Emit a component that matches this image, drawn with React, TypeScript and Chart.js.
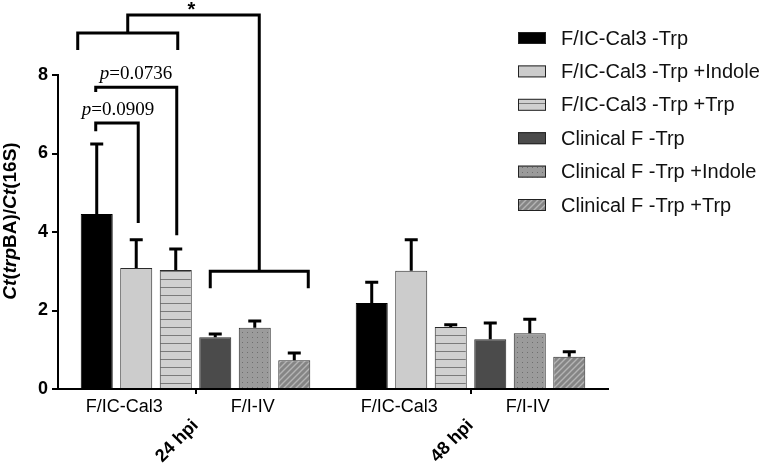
import { useEffect, useRef } from 'react';
import { Chart, registerables } from 'chart.js';

Chart.register(...registerables);

// ---------- data ----------
const timepoints = ['24 hpi', '48 hpi'];
const subgroupLabels = ['F/IC-Cal3', 'F/I-IV'];
const seriesNames = [
  'F/IC-Cal3 -Trp',
  'F/IC-Cal3 -Trp +Indole',
  'F/IC-Cal3 -Trp +Trp',
  'Clinical F -Trp',
  'Clinical F -Trp +Indole',
  'Clinical F -Trp +Trp',
];
const meanCalNoTrp = [4.46, 2.19];
const meanCalIndole = [3.08, 3.01];
const meanCalTrp = [3.03, 1.58];
const meanClinNoTrp = [1.32, 1.27];
const meanClinIndole = [1.56, 1.42];
const meanClinTrp = [0.73, 0.82];
const errCalNoTrp = [1.78, 0.53];
const errCalIndole = [0.72, 0.79];
const errCalTrp = [0.54, 0.06];
const errClinNoTrp = [0.08, 0.41];
const errClinIndole = [0.17, 0.36];
const errClinTrp = [0.19, 0.13];
const yTicks = [0, 2, 4, 6, 8];
const pValues = ['0.0909', '0.0736'];
const starLabel = '*';
// bracket levels (in y-axis units)
const bracketA = { level: 6.78, leftEnd: 6.57, rightEnd: 4.23 };
const bracketB = { level: 7.69, leftEnd: 7.57, rightEnd: 3.92 };
const bracketC = { level: 9.07, ends: 8.64 };
const bracketD = { level: 9.53 };
const bracketE = { level: 3.0, ends: 2.57 };

const means = [meanCalNoTrp, meanCalIndole, meanCalTrp, meanClinNoTrp, meanClinIndole, meanClinTrp];
const errs = [errCalNoTrp, errCalIndole, errCalTrp, errClinNoTrp, errClinIndole, errClinTrp];

const SANS = "'Liberation Sans', Arial, sans-serif";
const SERIF = "'Liberation Serif', 'Times New Roman', serif";

function makePattern(w: number, h: number, bg: string, draw: (c: CanvasRenderingContext2D) => void) {
  const cv = document.createElement('canvas');
  cv.width = w;
  cv.height = h;
  const c = cv.getContext('2d')!;
  c.fillStyle = bg;
  c.fillRect(0, 0, w, h);
  draw(c);
  return c.createPattern(cv, 'repeat')!;
}

function buildFills() {
  const striped = makePattern(8, 8, '#d0d0d0', (c) => {
    c.fillStyle = '#7a7a7a';
    c.fillRect(0, 7, 8, 1);
  });
  const dotted = makePattern(5, 5, '#9b9b9b', (c) => {
    c.fillStyle = '#6e6e6e';
    c.fillRect(2, 2, 1, 1);
  });
  const hatched = makePattern(6, 6, '#858585', (c) => {
    c.strokeStyle = '#b4b4b4';
    c.lineWidth = 1.4;
    c.beginPath();
    c.moveTo(-1, 7);
    c.lineTo(7, -1);
    c.moveTo(-4, 4);
    c.lineTo(4, -4);
    c.moveTo(2, 10);
    c.lineTo(10, 2);
    c.stroke();
  });
  return ['#000000', '#cccccc', striped, '#4b4b4b', dotted, hatched];
}

const annotations = {
  id: 'annotations',
  afterDatasetsDraw(chart: any) {
    const ctx: CanvasRenderingContext2D = chart.ctx;
    const ys = chart.scales.y;
    const py = (v: number) => ys.getPixelForValue(v);
    ctx.save();
    // error bars
    ctx.strokeStyle = '#000';
    ctx.lineWidth = 3;
    ctx.lineCap = 'butt';
    chart.data.datasets.forEach((ds: any, i: number) => {
      const meta = chart.getDatasetMeta(i);
      meta.data.forEach((el: any, j: number) => {
        const top = py(means[i][j] + errs[i][j]);
        ctx.beginPath();
        ctx.moveTo(el.x, el.y);
        ctx.lineTo(el.x, top);
        ctx.moveTo(el.x - 6.5, top);
        ctx.lineTo(el.x + 6.5, top);
        ctx.stroke();
      });
    });

    const cx = (i: number) => chart.getDatasetMeta(i).data[0].x;
    const path = (pts: number[][]) => {
      ctx.beginPath();
      ctx.moveTo(pts[0][0], pts[0][1]);
      for (let k = 1; k < pts.length; k++) ctx.lineTo(pts[k][0], pts[k][1]);
      ctx.stroke();
    };
    ctx.lineJoin = 'miter';
    ctx.lineWidth = 3;
    // A
    const aL = cx(0) - 1, aR = cx(1) + 2;
    path([[aL, py(bracketA.leftEnd)], [aL, py(bracketA.level)], [aR, py(bracketA.level)], [aR, py(bracketA.rightEnd)]]);
    // B
    const bL = cx(0) - 1, bR = cx(2) + 1;
    path([[bL, py(bracketB.leftEnd)], [bL, py(bracketB.level)], [bR, py(bracketB.level)], [bR, py(bracketB.rightEnd)]]);
    // C
    const cL = cx(0) - 19, cR = cx(2) + 2;
    path([[cL, py(bracketC.ends)], [cL, py(bracketC.level)], [cR, py(bracketC.level)], [cR, py(bracketC.ends)]]);
    // E
    const eL = cx(3) - 5, eR = cx(5) + 14;
    path([[eL, py(bracketE.ends)], [eL, py(bracketE.level)], [eR, py(bracketE.level)], [eR, py(bracketE.ends)]]);
    // D
    const dL = (cL + cR) / 2, dR = (eL + eR) / 2;
    path([[dL, py(bracketC.level)], [dL, py(bracketD.level)], [dR, py(bracketD.level)], [dR, py(bracketE.level)]]);

    // star
    ctx.fillStyle = '#000';
    ctx.font = `bold 20px ${SANS}`;
    ctx.textAlign = 'center';
    ctx.textBaseline = 'alphabetic';
    ctx.fillText(starLabel, (dL + dR) / 2 - 2, py(bracketD.level) + 1);

    // p-values
    const drawP = (x: number, y: number, val: string) => {
      ctx.textAlign = 'left';
      ctx.font = `italic 19px ${SERIF}`;
      ctx.fillText('p', x, y);
      const w = ctx.measureText('p').width;
      ctx.font = `19px ${SERIF}`;
      ctx.fillText('=' + val, x + w, y);
    };
    drawP(cx(0) - 15, py(bracketA.level) - 8, pValues[0]);
    drawP(cx(0) + 3, py(bracketB.level) - 8, pValues[1]);

    // subgroup labels under x axis
    ctx.font = `18px ${SANS}`;
    ctx.textAlign = 'center';
    ctx.textBaseline = 'middle';
    const base = chart.chartArea.bottom + 18;
    for (let j = 0; j < timepoints.length; j++) {
      const x1 = chart.getDatasetMeta(1).data[j].x - 12;
      const x2 = chart.getDatasetMeta(4).data[j].x - 2;
      ctx.fillText(subgroupLabels[0], x1, base);
      ctx.fillText(subgroupLabels[1], x2, base);
    }

    // y-axis title with mixed styles
    const parts: [string, boolean][] = [
      ['Ct', true], ['(', false], ['trp', true], ['BA)/', false], ['Ct', true], ['(16S)', false],
    ];
    const fontFor = (it: boolean) => `${it ? 'italic ' : ''}bold 19px ${SANS}`;
    let total = 0;
    parts.forEach(([t, it]) => { ctx.font = fontFor(it); total += ctx.measureText(t).width; });
    ctx.translate(16, 221);
    ctx.rotate(-Math.PI / 2);
    ctx.textAlign = 'left';
    ctx.textBaseline = 'alphabetic';
    let u = -total / 2;
    parts.forEach(([t, it]) => {
      ctx.font = fontFor(it);
      ctx.fillText(t, u, 0);
      u += ctx.measureText(t).width;
    });
    ctx.setTransform(1, 0, 0, 1, 0, 0);

    // legend
    ctx.font = `20px ${SANS}`;
    ctx.textAlign = 'left';
    ctx.textBaseline = 'middle';
    chart.data.datasets.forEach((ds: any, i: number) => {
      const ry = 38 + i * 33.4;
      ctx.fillStyle = ds.backgroundColor;
      ctx.fillRect(518, ry - 6, 28, 12);
      ctx.lineWidth = 1;
      ctx.strokeStyle = '#222';
      ctx.strokeRect(518.5, ry - 5.5, 27, 11);
      ctx.fillStyle = '#111';
      ctx.fillText(ds.label, 561, ry + 1);
    });
    ctx.restore();
  },
};

export default function App() {
  const ref = useRef<HTMLCanvasElement>(null);
  useEffect(() => {
    const fills = buildFills();
    const chart = new Chart(ref.current!, {
      type: 'bar',
      data: {
        labels: timepoints,
        datasets: seriesNames.map((name, i) => ({
          label: name,
          data: means[i],
          backgroundColor: fills[i] as any,
          borderColor: i === 0 ? '#000' : '#2a2a2a',
          borderWidth: 1,
          categoryPercentage: 0.862,
          barPercentage: 0.81,
        })),
      },
      options: {
        responsive: false,
        animation: false,
        layout: { padding: { top: 75, right: 158, left: 0, bottom: 0 } },
        plugins: { legend: { display: false }, tooltip: { enabled: false } },
        scales: {
          x: {
            type: 'category',
            offset: true,
            grid: { display: true, drawOnChartArea: false, drawTicks: true, tickLength: 5, offset: false, color: '#000', lineWidth: 2 },
            border: { display: true, color: '#000', width: 2 },
            ticks: {
              font: { family: SANS, size: 18, weight: 'bold' },
              color: '#000',
              maxRotation: 45,
              minRotation: 45,
              padding: 21,
              autoSkip: false,
            },
            afterFit: (s: any) => { s.height = 74; },
          },
          y: {
            min: 0,
            max: 8,
            afterBuildTicks: (s: any) => { s.ticks = yTicks.map((v) => ({ value: v })); },
            ticks: { font: { family: SANS, size: 18, weight: 'bold' }, color: '#000', padding: 4 },
            grid: { drawOnChartArea: false, tickLength: 6, color: '#000', lineWidth: 2 },
            border: { color: '#000', width: 2 },
            afterFit: (s: any) => { s.width = 58; },
          },
        },
      } as any,
      plugins: [annotations],
    });
    return () => chart.destroy();
  }, []);
  return (
    <div style={{ position: 'absolute', left: 0, top: 0, width: 766, height: 463, background: '#fff' }}>
      <canvas ref={ref} width={766} height={463} />
    </div>
  );
}
